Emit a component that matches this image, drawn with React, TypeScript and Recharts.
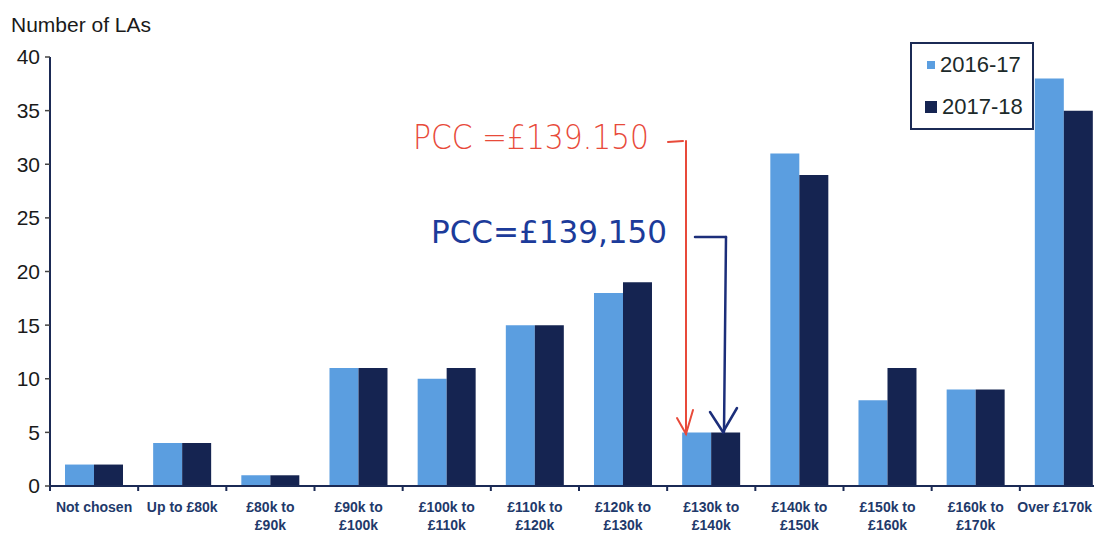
import React from "react";
import { Bar, BarChart, Legend, XAxis, YAxis } from "recharts";

const categories = [
  "Not chosen",
  "Up to £80k",
  "£80k to £90k",
  "£90k to £100k",
  "£100k to £110k",
  "£110k to £120k",
  "£120k to £130k",
  "£130k to £140k",
  "£140k to £150k",
  "£150k to £160k",
  "£160k to £170k",
  "Over £170k",
];
const series2016 = [2, 4, 1, 11, 10, 15, 18, 5, 31, 8, 9, 38];
const series2017 = [2, 4, 1, 11, 11, 15, 19, 5, 29, 11, 9, 35];
const yTicks = [0, 5, 10, 15, 20, 25, 30, 35, 40];

const LIGHT = "#5b9ee0";
const DARK = "#152451";
const AXIS = "#1b2a55";
const LABEL = "#1f3a6b";

const W = 1094;
const H = 535;
const LEFT = 50;
// the source image crops the plot a little on the right
const RIGHT = -14;
const BAND = (W - LEFT - RIGHT) / categories.length;

const data = categories.map((name, i) => ({
  name,
  y2016: series2016[i],
  y2017: series2017[i],
}));

function CategoryTick(props: any) {
  const { x, y, payload, index } = props;
  const label: string = payload.value;
  const parts = label.startsWith("£") ? label.split(/ (?=£)/) : [label];
  // keep the last label inside the picture
  const last = index === categories.length - 1;
  const tx = last ? W - 2 : x;
  return (
    <g>
      <line x1={x - BAND / 2} x2={x - BAND / 2} y1={y - 8} y2={y - 3} stroke={AXIS} strokeWidth={2} />
      <text
        x={tx}
        y={y + 18}
        textAnchor={last ? "end" : "middle"}
        fill={LABEL}
        fontFamily="'Liberation Sans Narrow', 'Liberation Sans', Arial, sans-serif"
        fontWeight="bold"
        fontSize={14}
      >
        {parts.map((p, i) => (
          <tspan key={i} x={tx} dy={i === 0 ? 0 : 18}>
            {p}
          </tspan>
        ))}
      </text>
    </g>
  );
}

function LegendBox() {
  const rows = [
    { label: "2016-17", color: LIGHT, size: 8 },
    { label: "2017-18", color: DARK, size: 12 },
  ];
  return (
    <div
      style={{
        width: 120,
        height: 84,
        border: `2px solid ${AXIS}`,
        background: "#fff",
        boxSizing: "content-box",
        fontFamily: "'Liberation Sans', Arial, sans-serif",
        fontSize: 22,
        color: "#1c2a2a",
      }}
    >
      {rows.map((r) => (
        <div key={r.label} style={{ display: "flex", alignItems: "center", height: 42, paddingLeft: 13 }}>
          <span
            style={{
              display: "inline-block",
              width: r.size,
              height: r.size,
              background: r.color,
              marginRight: 5,
              marginLeft: r.size === 8 ? 2 : 0,
            }}
          />
          {r.label}
        </div>
      ))}
    </div>
  );
}

export default function App() {
  return (
    <div style={{ position: "absolute", left: 0, top: 0, width: W, height: H, background: "#fff", overflow: "hidden" }}>
      <BarChart
        width={W}
        height={H}
        data={data}
        margin={{ top: 57, right: RIGHT, bottom: 0, left: 0 }}
        barCategoryGap="17%"
        barGap={0}
      >
        <XAxis
          dataKey="name"
          height={49}
          interval={0}
          axisLine={{ stroke: AXIS, strokeWidth: 2 }}
          tickLine={false}
          tick={<CategoryTick />}
        />
        <YAxis
          width={LEFT}
          domain={[0, 40]}
          ticks={yTicks}
          interval={0}
          axisLine={{ stroke: AXIS, strokeWidth: 2 }}
          tickLine={{ stroke: "#444", strokeWidth: 1.5 }}
          tickSize={5}
          tickMargin={5}
          tick={{ fill: "#1a1a1a", fontSize: 21, fontFamily: "'Liberation Sans', Arial, sans-serif" }}
        />
        <Legend
          layout="horizontal"
          verticalAlign="middle"
          align="center"
          content={() => <LegendBox />}
          wrapperStyle={{ position: "absolute", left: 910, top: 42, width: 124, height: 88 }}
        />
        <Bar dataKey="y2016" name="2016-17" fill={LIGHT} isAnimationActive={false} />
        <Bar dataKey="y2017" name="2017-18" fill={DARK} isAnimationActive={false} />
      </BarChart>
      <svg
        width={W}
        height={H}
        style={{ position: "absolute", left: 0, top: 0, pointerEvents: "none" }}
      >
        <text x={11} y={32} fontSize={21} fill="#1a1a1a" fontFamily="'Liberation Sans', Arial, sans-serif">
          Number of LAs
        </text>
        <text
          x={413}
          y={149}
          fontSize={34}
          fill="#e84a3a"
          fontFamily="'DejaVu Sans', sans-serif"
          fontWeight={300}
          textLength={236}
          lengthAdjust="spacingAndGlyphs"
        >
          PCC =£139.150
        </text>
        <g stroke="#e84a3a" strokeWidth={2} fill="none" strokeLinecap="round">
          <line x1={668} y1={142} x2={683} y2={141} />
          <line x1={686} y1={141} x2={686} y2={434} />
          <polyline points="677,418 686,434 693,410" />
        </g>
        <text
          x={431}
          y={243}
          fontSize={32}
          fill="#1c3b9a"
          fontFamily="'DejaVu Sans', sans-serif"
          textLength={236}
          lengthAdjust="spacingAndGlyphs"
        >
          PCC=£139,150
        </text>
        <g stroke="#1c2e7a" strokeWidth={2.5} fill="none" strokeLinecap="round">
          <line x1={695} y1={237} x2={726} y2={237} />
          <line x1={726} y1={237} x2={724} y2={432} />
          <polyline points="710,412 723,432 737,408" />
        </g>
      </svg>
    </div>
  );
}
